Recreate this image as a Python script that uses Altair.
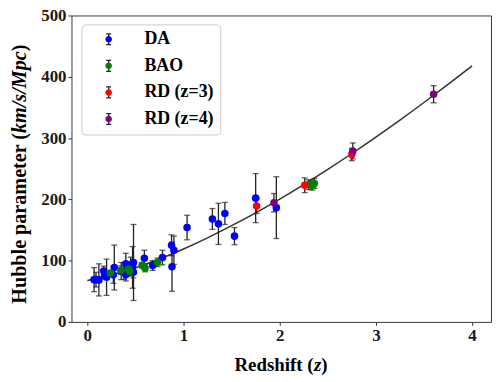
import altair as alt
import pandas as pd

# ---------------- data ----------------
series_order = ["DA", "BAO", "RD (z=3)", "RD (z=4)"]
series_colors = ["#0000ff", "#008000", "#ff0000", "#800080"]

da_z = [0.07, 0.09, 0.12, 0.17, 0.1791, 0.1993, 0.2, 0.27, 0.28, 0.3519, 0.3802, 0.4,
        0.4004, 0.4247, 0.4497, 0.47, 0.4783, 0.48, 0.5929, 0.6797, 0.7812, 0.8754,
        0.88, 0.9, 1.037, 1.3, 1.363, 1.43, 1.53, 1.75, 1.965]
da_H = [69, 69, 68.6, 83, 75, 75, 72.9, 77, 88.8, 83, 83, 95, 77, 87.1, 92.8, 89, 80.9,
        97, 104, 92, 105, 125, 90, 117, 154, 168, 160, 177, 140, 202, 186.5]
da_err = [19.6, 12, 26.2, 8, 4, 5, 29.6, 14, 36.6, 14, 13.5, 17, 10.2, 11.2, 12.9, 34, 9,
          62, 13, 8, 12, 17, 40, 23, 20, 17, 33.6, 18, 14, 40, 50.4]

bao_z = [0.24, 0.35, 0.43, 0.44, 0.57, 0.6, 0.73, 2.3, 2.34, 2.36]
bao_H = [79.7, 84.4, 86.5, 82.6, 92.4, 87.9, 97.3, 224, 222, 226]
bao_err = [3.0, 7, 3.7, 7.8, 4.5, 6.1, 7, 8, 7, 8]

rd3_z = [1.76, 2.26, 2.75]
rd3_H = [189, 223, 273]
rd3_err = [12, 12, 10]

rd4_z = [1.94, 2.76, 3.6]
rd4_H = [194.5, 279, 371.5]
rd4_err = [15, 13, 14]

curve_z = [0, 0.25, 0.5, 0.75, 1, 1.25, 1.5, 1.75, 2, 2.25, 2.5, 2.75, 3, 3.25, 3.5, 3.75, 4]
curve_H = [67.6, 76.7, 88.5, 102.7, 119, 137.2, 157, 178, 200.5, 224.2, 249, 274.8,
           301.6, 329.3, 358, 387.5, 417.8]

x_ticks = [0, 1, 2, 3, 4]
y_ticks = [0, 100, 200, 300, 400, 500]

# ---------------- tables ----------------
rows = []
for name, zs, hs, es in [("DA", da_z, da_H, da_err), ("BAO", bao_z, bao_H, bao_err),
                         ("RD (z=3)", rd3_z, rd3_H, rd3_err), ("RD (z=4)", rd4_z, rd4_H, rd4_err)]:
    for z, h, e in zip(zs, hs, es):
        rows.append({"series": name, "key": "eb:" + name, "z": z, "H": h,
                     "lo": h - e, "hi": h + e})
df = pd.DataFrame(rows)
curve_df = pd.DataFrame({"z": curve_z, "H": curve_H})

FONT = "Liberation Serif"
xscale = alt.Scale(domain=[-0.165, 4.197], nice=False, zero=False)
yscale = alt.Scale(domain=[0, 500], nice=False, zero=False)
axis_common = dict(labelFont=FONT, labelFontWeight="bold", labelFontSize=17,
                   labelColor="#1a1a1a", tickColor="#333333", tickSize=3.5, tickWidth=1,
                   domain=False, grid=False, title=None, labelPadding=2, format="d")
xaxis = alt.Axis(values=x_ticks, **axis_common)
yaxis = alt.Axis(values=y_ticks, **axis_common)

def X(f):
    return alt.X(f, type="quantitative", scale=xscale, axis=xaxis)

def Y(f):
    return alt.Y(f, type="quantitative", scale=yscale, axis=yaxis)

circle_path = "M-0.6,0A0.6,0.6,0,1,0,0.6,0A0.6,0.6,0,1,0,-0.6,0Z"
eb_path = "M0,-1L0,1M-0.45,-1L0.45,-1M-0.45,1L0.45,1"

legend_common = dict(orient="none", legendX=10, legendY=9, title=None,
                     symbolSize=121, labelFont=FONT, labelFontWeight="bold",
                     labelFontSize=18, padding=6, symbolOffset=12.5, labelOffset=27,
                     rowPadding=8.8, labelLimit=200)

ebar_legend = alt.Legend(symbolType=eb_path, symbolStrokeWidth=1.3,
                         symbolFillColor="transparent", labelExpr="''",
                         **legend_common)
point_legend = alt.Legend(symbolType=circle_path, symbolStrokeWidth=0, labelColor="black",
                          strokeColor="#cccccc", cornerRadius=4, **legend_common)

curve = alt.Chart(curve_df).mark_line(color="#333333", strokeWidth=1.5,
                                      interpolate="monotone").encode(x=X("z"), y=Y("H"))

bars = alt.Chart(df).mark_rule(strokeWidth=1.3).encode(
    x=X("z"), y=Y("lo"), y2="hi:Q",
    color=alt.Color("key:N", scale=alt.Scale(domain=["eb:" + s for s in series_order],
                                             range=["#222222"] * 4),
                    legend=ebar_legend))
cap_lo = alt.Chart(df).mark_tick(orient="horizontal", size=6, thickness=1.3,
                                 color="#222222").encode(x=X("z"), y=Y("lo"))
cap_hi = alt.Chart(df).mark_tick(orient="horizontal", size=6, thickness=1.3,
                                 color="#222222").encode(x=X("z"), y=Y("hi"))
points = alt.Chart(df).mark_circle(size=58, opacity=1).encode(
    x=X("z"), y=Y("H"),
    fill=alt.Fill("series:N", scale=alt.Scale(domain=series_order, range=series_colors),
                  legend=point_legend))

one = pd.DataFrame({"k": [0]})
def label(text, x, y, align, angle=0, italic=False, size=19):
    kw = dict(font=FONT, fontWeight="bold", fontSize=size, align=align,
              baseline="alphabetic", color="black", text=text)
    if angle:
        kw["angle"] = angle
    if italic:
        kw["fontStyle"] = "italic"
    return alt.Chart(one).mark_text(**kw).encode(x=alt.value(x), y=alt.value(y))

titles = [
    label("Redshift (", 244, 358.5, "right"),
    label("z", 244.5, 358.5, "left", italic=True),
    label(")", 251.8, 358.5, "left"),
    label("Hubble parameter (", -46, 118.5, "right", angle=270, size=20.3),
    label("km/s/Mpc", -46, 118.5, "left", angle=270, italic=True, size=20.3),
    label(")", -46, 36.2, "left", angle=270, size=20.3),
]

chart = alt.layer(curve, bars, cap_lo, cap_hi, points, *titles).properties(
    width=423, height=309,
    autosize=alt.AutoSizeParams(type="none"),
    padding={"left": 64, "top": 6, "right": 2, "bottom": 56},
    background="white",
).configure_view(stroke="#3a3a3a", strokeWidth=1)

chart.save("out.html", embed_options={"renderer": "svg", "actions": False})
